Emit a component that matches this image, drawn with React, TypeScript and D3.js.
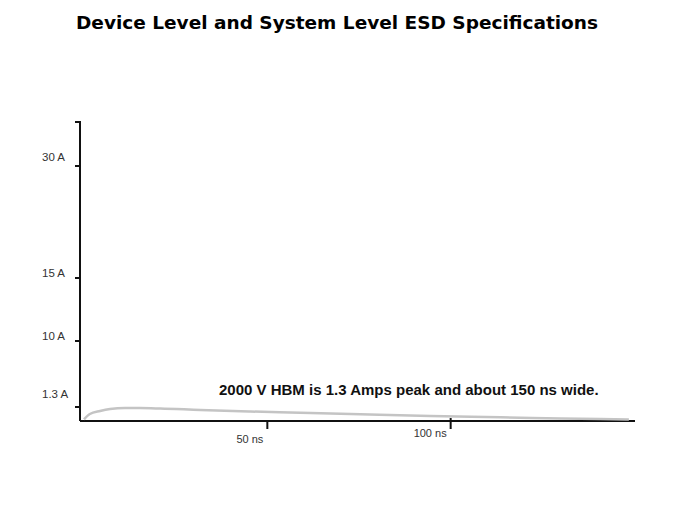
import React, { useEffect, useRef } from 'react';
import * as d3 from 'd3';

// HBM discharge current waveform
const timeNs = [0, 1.6, 4.4, 7.1, 11.2, 15.3, 20.8, 31.7, 45.4, 59, 72.7, 94.5, 113.7, 130, 148.6];
const currentA = [0.15, 0.65, 0.93, 1.11, 1.2, 1.2, 1.16, 1.02, 0.88, 0.77, 0.65, 0.46, 0.34, 0.23, 0.14];

// the y axis is drawn with uneven spacing in the original
const yTickValues = [1.3, 10, 15, 30];
const yTickLabels = ['1.3 A', '10 A', '15 A', '30 A'];
const yTickPixels = [407, 341, 278, 166];
const yTop = 36;

const xTickValues = [50, 100];
const xTickLabels = ['50 ns', '100 ns'];

const title = 'Device Level and System Level ESD Specifications';
const note = '2000 V HBM is 1.3 Amps peak and about 150 ns wide.';

const W = 674;
const H = 506;

const App: React.FC = () => {
  const ref = useRef<SVGSVGElement>(null);

  useEffect(() => {
    document.body.style.margin = '0';
    if (!ref.current) return;
    const svg = d3.select(ref.current);
    svg.selectAll('*').remove();

    const x = d3.scaleLinear().domain([0, 150]).range([84, 634]);
    const y = d3.scaleLinear()
      .domain([0, ...yTickValues, yTop])
      .range([421, ...yTickPixels, 122]);

    svg.append('text')
      .attr('x', 337)
      .attr('y', 23)
      .attr('dy', '0.35em')
      .attr('text-anchor', 'middle')
      .attr('font-family', 'DejaVu Sans, Verdana, sans-serif')
      .attr('font-weight', 'bold')
      .attr('font-size', '18.5px')
      .attr('fill', '#000')
      .text(title);

    const axisColor = '#111';

    // y axis
    svg.append('line')
      .attr('x1', 80).attr('x2', 80)
      .attr('y1', y(yTop)).attr('y2', y(0))
      .attr('stroke', axisColor).attr('stroke-width', 2);

    svg.selectAll('.ytick')
      .data([...yTickValues, yTop])
      .enter().append('line')
      .attr('x1', 75).attr('x2', 81)
      .attr('y1', d => y(d)).attr('y2', d => y(d))
      .attr('stroke', axisColor).attr('stroke-width', 2);

    const labelDy = [-13, -5, -5, -9];
    svg.selectAll('.ylabel')
      .data(yTickValues)
      .enter().append('text')
      .attr('x', 42)
      .attr('y', (d, i) => y(d) + labelDy[i])
      .attr('dy', '0.35em')
      .attr('font-family', 'Liberation Sans, Arial, sans-serif')
      .attr('font-size', '11.5px')
      .attr('fill', '#333')
      .text((d, i) => yTickLabels[i]);

    // x axis
    svg.append('line')
      .attr('x1', 80).attr('x2', 635)
      .attr('y1', y(0)).attr('y2', y(0))
      .attr('stroke', axisColor).attr('stroke-width', 2);

    svg.selectAll('.xtick')
      .data(xTickValues)
      .enter().append('line')
      .attr('x1', d => x(d)).attr('x2', d => x(d))
      .attr('y1', (d, i) => (i === 0 ? 421 : 418)).attr('y2', 429)
      .attr('stroke', axisColor).attr('stroke-width', 2);

    const xLabelDy = [18, 12];
    svg.selectAll('.xlabel')
      .data(xTickValues)
      .enter().append('text')
      .attr('x', d => x(d) - 4)
      .attr('y', (d, i) => y(0) + xLabelDy[i])
      .attr('dy', '0.35em')
      .attr('text-anchor', 'end')
      .attr('font-family', 'Liberation Sans, Arial, sans-serif')
      .attr('font-size', '11px')
      .attr('fill', '#333')
      .text((d, i) => xTickLabels[i]);

    // waveform
    const line = d3.line<number>()
      .x((d, i) => x(timeNs[i]))
      .y(d => y(d))
      .curve(d3.curveMonotoneX);

    svg.append('path')
      .datum(currentA)
      .attr('d', line)
      .attr('fill', 'none')
      .attr('stroke', '#c4c4c4')
      .attr('stroke-width', 2.5);

    svg.append('text')
      .attr('x', 219)
      .attr('y', 390)
      .attr('dy', '0.35em')
      .attr('font-family', 'Liberation Sans, Arial, sans-serif')
      .attr('font-weight', 'bold')
      .attr('font-size', '15px')
      .attr('fill', '#111')
      .text(note);
  }, []);

  return <svg ref={ref} width={W} height={H} style={{ display: 'block', background: '#fff' }} />;
};

export default App;
